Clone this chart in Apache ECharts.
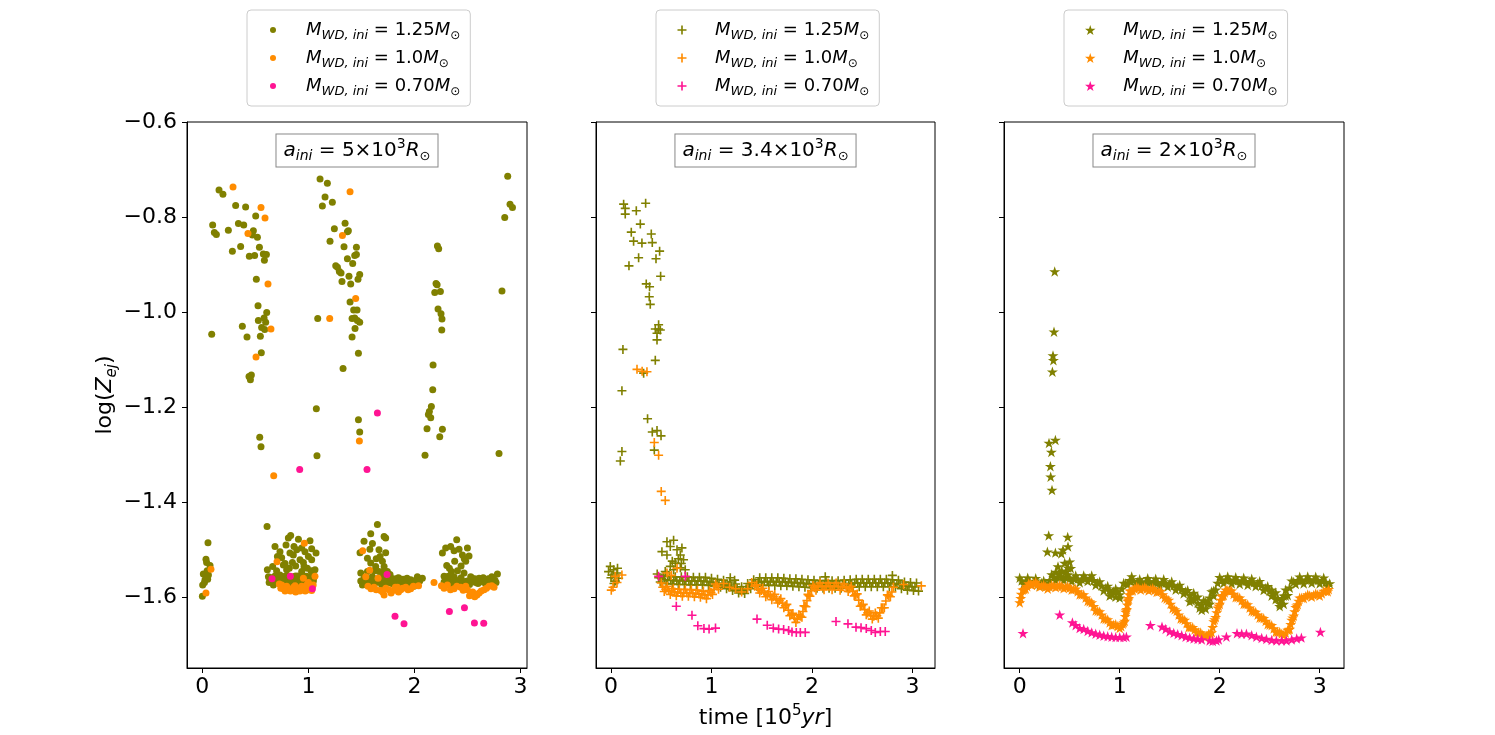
<!DOCTYPE html>
<html>
<head>
<meta charset="utf-8">
<script src="https://cdn.jsdelivr.net/npm/echarts@6.0.0/dist/echarts.min.js"></script>
<style>
  html, body { margin: 0; padding: 0; background: #fff; }
  #main { width: 1495px; height: 735px; }
</style>
</head>
<body>
<div id="main"></div>
<script>
// 三个面板的数据: [time (1e5 yr), log(Z_ej)]
const xTicks = [0, 1, 2, 3]
const yTicks = [-1.6, -1.4, -1.2, -1.0, -0.8, -0.6]
const massLabels = ['1.25', '1.0', '0.70']
const sepLabels = ['5', '3.4', '2']

// 面板1: a_ini = 5e3 R_sun
const p1Olive = [
  [0.000,-1.599],[0.003,-1.575],[0.025,-1.564],[0.009,-1.552],[0.057,-1.554],[0.050,-1.563],[0.072,-1.534],
  [0.040,-1.528],[0.034,-1.521],[0.053,-1.486],[0.020,-1.570],[0.045,-1.545],
  [0.088,-1.047],[0.097,-0.817],[0.113,-0.833],[0.132,-0.837],[0.157,-0.743],[0.194,-0.752],[0.245,-0.828],
  [0.283,-0.872],[0.314,-0.776],[0.340,-0.814],[0.361,-0.862],[0.377,-1.030],[0.390,-0.817],[0.408,-0.779],
  [0.421,-1.053],[0.440,-1.136],[0.443,-0.883],[0.453,-1.143],[0.462,-1.133],[0.472,-0.838],[0.481,-0.829],
  [0.493,-0.881],[0.503,-0.798],[0.509,-0.931],[0.519,-0.843],[0.525,-0.987],[0.528,-1.018],[0.538,-0.864],
  [0.541,-1.264],[0.547,-1.051],[0.553,-1.284],[0.556,-1.086],[0.559,-1.033],[0.575,-0.878],[0.582,-1.013],
  [0.585,-0.891],[0.588,-1.037],[0.597,-1.022],[0.604,-0.879],[0.607,-1.001],
  [0.610,-1.452],[0.613,-1.543],[0.623,-1.558],[0.638,-1.567],[0.663,-1.536],[0.670,-1.575],[0.685,-1.494],
  [0.685,-1.556],[0.701,-1.569],[0.708,-1.515],[0.732,-1.505],[0.732,-1.554],[0.748,-1.518],[0.764,-1.533],
  [0.764,-1.570],[0.779,-1.557],[0.789,-1.491],[0.795,-1.543],[0.795,-1.567],[0.811,-1.476],[0.826,-1.508],
  [0.833,-1.471],[0.849,-1.528],[0.858,-1.512],[0.858,-1.558],[0.864,-1.494],[0.890,-1.501],[0.890,-1.567],
  [0.906,-1.479],[0.906,-1.556],[0.921,-1.522],[0.937,-1.497],[0.937,-1.547],[0.937,-1.575],[0.953,-1.528],
  [0.959,-1.536],[0.968,-1.505],[0.968,-1.565],[0.984,-1.557],[1.000,-1.515],[1.015,-1.482],[1.015,-1.564],
  [1.031,-1.499],[1.031,-1.522],[1.031,-1.558],[1.047,-1.567],[1.062,-1.543],[1.072,-1.508],
  [0.650,-1.560],[0.720,-1.562],[0.750,-1.565],[0.810,-1.562],[0.830,-1.568],[0.870,-1.563],[0.920,-1.562],
  [0.960,-1.570],[1.000,-1.560],[1.040,-1.553],
  [0.630,-1.570],[0.660,-1.562],[0.690,-1.566],[0.710,-1.558],[0.740,-1.572],[0.770,-1.560],[0.800,-1.555],
  [0.820,-1.572],[0.845,-1.560],[0.880,-1.556],[0.900,-1.572],[0.930,-1.565],[0.950,-1.555],[0.975,-1.572],
  [0.990,-1.564],[1.010,-1.572],[1.025,-1.545],[1.050,-1.560],[0.880,-1.535],[0.780,-1.530],[0.700,-1.545],
  [0.820,-1.540],[0.990,-1.540],
  [1.075,-1.204],[1.081,-1.303],[1.088,-1.014],[1.110,-0.720],[1.132,-0.777],[1.157,-0.758],[1.179,-0.729],
  [1.204,-0.851],[1.226,-0.769],[1.245,-0.825],[1.258,-0.903],[1.274,-0.906],[1.292,-0.915],[1.308,-0.918],
  [1.317,-0.936],[1.327,-1.119],[1.336,-0.863],[1.346,-0.813],[1.368,-0.831],[1.377,-0.829],[1.368,-0.888],
  [1.383,-0.925],[1.393,-0.979],[1.399,-0.941],[1.412,-1.014],[1.412,-1.053],[1.418,-0.898],[1.427,-0.996],
  [1.437,-1.013],[1.437,-0.881],[1.440,-1.035],[1.453,-0.864],[1.453,-0.879],[1.459,-0.996],[1.462,-1.018],
  [1.468,-0.931],[1.472,-1.087],[1.472,-1.227],[1.484,-0.921],[1.484,-1.022],[1.484,-1.253],
  [1.487,-1.507],[1.494,-1.550],[1.494,-1.567],[1.525,-1.483],[1.525,-1.561],[1.557,-1.519],[1.557,-1.547],
  [1.588,-1.467],[1.588,-1.529],[1.604,-1.488],[1.604,-1.558],[1.635,-1.536],[1.651,-1.448],[1.666,-1.501],
  [1.666,-1.547],[1.676,-1.515],[1.682,-1.567],[1.698,-1.525],[1.714,-1.473],[1.714,-1.536],[1.729,-1.476],
  [1.729,-1.507],[1.745,-1.547],[1.745,-1.570],[1.776,-1.561],[1.808,-1.567],[1.840,-1.561],[1.871,-1.570],
  [1.902,-1.563],[1.931,-1.561],[1.949,-1.570],[1.965,-1.564],[1.996,-1.578],[2.028,-1.558],[2.075,-1.561],
  [1.540,-1.570],[1.620,-1.565],[1.700,-1.560],[1.760,-1.566],[1.790,-1.572],[1.820,-1.565],[1.860,-1.566],
  [1.890,-1.572],[1.920,-1.567],[1.980,-1.570],
  [1.510,-1.575],[1.560,-1.566],[1.580,-1.575],[1.640,-1.570],[1.660,-1.562],[1.690,-1.574],[1.720,-1.566],
  [1.780,-1.571],[1.800,-1.562],[1.830,-1.572],[1.850,-1.560],[1.880,-1.563],[1.910,-1.571],[1.940,-1.564],
  [1.960,-1.573],[2.000,-1.566],[2.050,-1.567],[1.620,-1.545],[1.700,-1.548],[1.770,-1.553],[1.640,-1.520],
  [1.580,-1.500],
  [2.100,-1.302],[2.119,-1.246],[2.132,-1.216],[2.141,-1.210],[2.154,-1.223],[2.160,-1.199],[2.173,-1.164],
  [2.176,-1.112],[2.192,-0.959],[2.204,-0.940],[2.214,-0.943],[2.217,-0.861],[2.223,-0.994],[2.229,-0.867],
  [2.239,-1.263],[2.245,-0.957],[2.251,-1.004],[2.258,-1.038],[2.260,-1.015],[2.264,-1.247],
  [2.264,-1.508],[2.280,-1.557],[2.280,-1.569],[2.295,-1.497],[2.305,-1.534],[2.327,-1.567],[2.342,-1.494],
  [2.349,-1.547],[2.374,-1.503],[2.374,-1.558],[2.399,-1.480],[2.406,-1.545],[2.421,-1.500],[2.437,-1.564],
  [2.453,-1.512],[2.468,-1.550],[2.484,-1.525],[2.500,-1.497],[2.500,-1.567],[2.515,-1.514],[2.531,-1.558],
  [2.578,-1.570],[2.610,-1.561],[2.642,-1.561],[2.657,-1.570],[2.689,-1.563],[2.736,-1.567],[2.783,-1.552],
  [2.300,-1.562],[2.360,-1.570],[2.420,-1.567],[2.460,-1.572],[2.550,-1.565],[2.600,-1.572],[2.670,-1.565],
  [2.710,-1.570],[2.760,-1.565],
  [2.290,-1.575],[2.320,-1.557],[2.340,-1.574],[2.390,-1.565],[2.410,-1.575],[2.440,-1.560],[2.480,-1.568],
  [2.520,-1.574],[2.540,-1.560],[2.570,-1.562],[2.620,-1.568],[2.650,-1.560],[2.680,-1.574],[2.700,-1.562],
  [2.730,-1.558],[2.770,-1.570],[2.440,-1.535],[2.380,-1.525],[2.330,-1.540],[2.470,-1.520],
  [2.798,-1.298],[2.826,-0.956],[2.852,-0.801],[2.880,-0.714],[2.902,-0.773],[2.925,-0.780]
]
const p1Orange = [
  [0.034,-1.592],[0.081,-1.542],
  [0.289,-0.737],[0.430,-0.835],[0.506,-1.095],[0.553,-0.780],[0.591,-0.802],[0.619,-0.941],[0.647,-1.036],
  [0.673,-1.345],
  [0.704,-1.526],[0.726,-1.573],[0.748,-1.575],[0.764,-1.583],[0.795,-1.578],[0.811,-1.585],[0.852,-1.583],
  [0.874,-1.577],[0.890,-1.586],[0.937,-1.578],[0.953,-1.561],[0.962,-1.487],[0.984,-1.575],[1.000,-1.570],
  [1.021,-1.578],[1.031,-1.587],[1.062,-1.557],
  [0.740,-1.582],[0.780,-1.588],[0.800,-1.582],[0.830,-1.588],[0.860,-1.580],[0.880,-1.590],[0.910,-1.582],
  [0.920,-1.588],[0.960,-1.580],[0.970,-1.588],[1.000,-1.585],[1.045,-1.575],
  [1.201,-1.014],[1.321,-0.839],[1.393,-0.747],[1.446,-0.972],[1.481,-1.272],
  [1.512,-1.503],[1.541,-1.558],[1.562,-1.578],[1.578,-1.544],[1.619,-1.580],[1.657,-1.561],[1.682,-1.587],
  [1.714,-1.596],[1.761,-1.585],[1.808,-1.586],[1.840,-1.580],[1.871,-1.585],[1.918,-1.580],[1.965,-1.583],
  [2.039,-1.577],[2.185,-1.570],
  [1.590,-1.583],[1.640,-1.585],[1.700,-1.590],[1.730,-1.582],[1.780,-1.592],[1.820,-1.580],[1.850,-1.590],
  [1.890,-1.582],[1.940,-1.585],[1.990,-1.578],
  [2.255,-1.577],[2.311,-1.575],[2.374,-1.583],[2.437,-1.580],[2.484,-1.578],[2.500,-1.585],[2.531,-1.592],
  [2.569,-1.600],[2.610,-1.592],[2.657,-1.585],[2.704,-1.578],[2.751,-1.580],
  [2.280,-1.582],[2.340,-1.585],[2.400,-1.578],[2.460,-1.586],[2.520,-1.598],[2.550,-1.590],[2.590,-1.596],
  [2.630,-1.588],[2.680,-1.582],[2.730,-1.577]
]
const p1Pink = [
  [0.657,-1.562],[0.830,-1.557],[0.918,-1.332],[1.038,-1.583],[1.553,-1.332],[1.651,-1.213],[1.742,-1.553],
  [1.817,-1.641],[1.902,-1.657],[2.330,-1.631],[2.472,-1.623],[2.566,-1.655],[2.654,-1.656]
]

// 面板2: a_ini = 3.4e3 R_sun
const p2Olive = [
  [-0.007,-1.536],[0.026,-1.543],[-0.024,-1.547],[0.060,-1.550],[0.010,-1.554],[0.076,-1.561],[0.043,-1.567],
  [0.000,-1.560],[0.030,-1.572],[0.065,-1.540],
  [0.093,-1.314],[0.109,-1.294],[0.109,-1.166],[0.119,-1.079],[0.126,-0.773],[0.142,-0.782],[0.142,-0.794],
  [0.179,-0.903],[0.202,-0.832],[0.225,-0.851],[0.252,-0.787],[0.275,-0.886],[0.292,-0.815],[0.308,-0.855],
  [0.325,-1.129],[0.345,-0.771],[0.351,-0.941],[0.364,-1.225],[0.381,-0.968],[0.384,-0.947],[0.391,-0.984],
  [0.401,-0.836],[0.411,-0.854],[0.411,-1.253],[0.431,-1.291],[0.441,-1.036],[0.441,-1.102],[0.448,-0.888],
  [0.458,-1.045],[0.458,-1.059],[0.458,-1.250],[0.474,-1.027],[0.474,-1.036],[0.484,-0.872],[0.491,-1.038],
  [0.494,-0.925],[0.498,-1.261],
  [0.507,-1.505],[0.540,-1.547],[0.557,-1.484],[0.557,-1.512],[0.590,-1.494],[0.590,-1.536],[0.623,-1.481],
  [0.623,-1.543],[0.640,-1.529],[0.657,-1.501],[0.690,-1.512],[0.690,-1.539],[0.706,-1.497],[0.722,-1.522],
  [0.739,-1.543],[0.700,-1.530],[0.670,-1.520],[0.610,-1.525],
  [1.187,-1.560],[1.230,-1.565],[2.132,-1.558],[2.800,-1.555]
]
const p2OliveBand = [
  [0.46,-1.552],[0.49,-1.569],[0.52,-1.555],[0.55,-1.572],[0.58,-1.557],[0.61,-1.573],[0.64,-1.558],
  [0.67,-1.574],[0.70,-1.558],[0.73,-1.574],[0.76,-1.558],[0.79,-1.575],[0.82,-1.559],[0.85,-1.575],
  [0.88,-1.559],[0.91,-1.575],[0.94,-1.559],[0.97,-1.576],[1.00,-1.561],[1.03,-1.578],[1.06,-1.563],
  [1.09,-1.580],[1.12,-1.565],[1.15,-1.583],[1.18,-1.569],[1.21,-1.587],[1.24,-1.573],[1.27,-1.592],
  [1.30,-1.579],[1.33,-1.593],[1.36,-1.572],[1.39,-1.583],[1.42,-1.564],[1.45,-1.578],[1.48,-1.560],
  [1.51,-1.576],[1.54,-1.560],[1.57,-1.576],[1.60,-1.560],[1.63,-1.576],[1.66,-1.560],[1.69,-1.577],
  [1.72,-1.561],[1.75,-1.577],[1.78,-1.562],[1.81,-1.578],[1.84,-1.562],[1.87,-1.579],[1.90,-1.563],
  [1.93,-1.580],[1.96,-1.564],[1.99,-1.581],[2.02,-1.565],[2.05,-1.582],[2.08,-1.566],[2.11,-1.582],
  [2.14,-1.566],[2.17,-1.582],[2.20,-1.566],[2.23,-1.582],[2.26,-1.566],[2.29,-1.582],[2.32,-1.565],
  [2.35,-1.581],[2.38,-1.564],[2.41,-1.580],[2.44,-1.563],[2.47,-1.579],[2.50,-1.563],[2.53,-1.579],
  [2.56,-1.563],[2.59,-1.579],[2.62,-1.563],[2.65,-1.579],[2.68,-1.563],[2.71,-1.579],[2.74,-1.563],
  [2.77,-1.579],[2.80,-1.564],[2.83,-1.580],[2.86,-1.565],[2.89,-1.583],[2.92,-1.569],[2.95,-1.586],
  [2.98,-1.570],[3.01,-1.587],[3.04,-1.571],[3.06,-1.588],
  [0.475,-1.560],[0.505,-1.562],[0.535,-1.564],[0.565,-1.565],[0.595,-1.565],[0.625,-1.566],[0.655,-1.566],
  [0.685,-1.566],[0.715,-1.566],[0.745,-1.566],[0.775,-1.567],[0.805,-1.567],[0.835,-1.567],[0.865,-1.567],
  [0.895,-1.567],[0.925,-1.567],[0.955,-1.568],[0.985,-1.569],[1.015,-1.570],[1.045,-1.571],[1.075,-1.572],
  [1.105,-1.573],[1.135,-1.574],[1.165,-1.576],[1.195,-1.578],[1.225,-1.580],[1.255,-1.583],[1.285,-1.586],
  [1.315,-1.586],[1.345,-1.583],[1.375,-1.578],[1.405,-1.573],[1.435,-1.571],[1.465,-1.569],[1.495,-1.568],
  [1.525,-1.568],[1.555,-1.568],[1.585,-1.568],[1.615,-1.568],[1.645,-1.568],[1.675,-1.569],[1.705,-1.569],
  [1.735,-1.569],[1.765,-1.570],[1.795,-1.570],[1.825,-1.570],[1.855,-1.571],[1.885,-1.571],[1.915,-1.572],
  [1.945,-1.572],[1.975,-1.573],[2.005,-1.573],[2.035,-1.574],[2.065,-1.574],[2.095,-1.574],[2.125,-1.574],
  [2.155,-1.574],[2.185,-1.574],[2.215,-1.574],[2.245,-1.574],[2.275,-1.574],[2.305,-1.573],[2.335,-1.573],
  [2.365,-1.572],[2.395,-1.572],[2.425,-1.571],[2.455,-1.571],[2.485,-1.571],[2.515,-1.571],[2.545,-1.571],
  [2.575,-1.571],[2.605,-1.571],[2.635,-1.571],[2.665,-1.571],[2.695,-1.571],[2.725,-1.571],[2.755,-1.571],
  [2.785,-1.572],[2.815,-1.572],[2.845,-1.573],[2.875,-1.574],[2.905,-1.576],[2.935,-1.578],[2.965,-1.578],
  [2.995,-1.579],[3.025,-1.579]
]
const p2Orange = [
  [0.003,-1.586],[0.020,-1.580],[0.043,-1.557],[0.060,-1.570],[0.109,-1.554],
  [0.259,-1.121],[0.310,-1.125],[0.358,-1.126],[0.431,-1.275],[0.474,-1.302],[0.500,-1.378],[0.540,-1.397],
  [0.557,-1.550],[0.657,-1.540],[0.600,-1.555],
  [1.12,-1.572],[1.18,-1.580],[1.24,-1.583],[1.30,-1.590],[1.36,-1.583],[1.40,-1.570],[1.43,-1.578],
  [2.912,-1.574],[3.088,-1.577]
]
const p2OrangeBand = [
  [0.50,-1.571],[0.53,-1.589],[0.56,-1.578],[0.59,-1.595],[0.62,-1.583],[0.65,-1.598],[0.68,-1.584],
  [0.71,-1.599],[0.74,-1.585],[0.77,-1.599],[0.80,-1.585],[0.83,-1.600],[0.86,-1.586],[0.89,-1.601],
  [0.92,-1.588],[0.95,-1.604],[0.98,-1.587],[1.01,-1.595],[1.04,-1.573],[1.07,-1.584],
  [0.515,-1.580],[0.545,-1.584],[0.575,-1.587],[0.605,-1.589],[0.635,-1.590],[0.665,-1.591],[0.695,-1.592],
  [0.725,-1.592],[0.755,-1.592],[0.785,-1.592],[0.815,-1.593],[0.845,-1.593],[0.875,-1.594],[0.905,-1.595],
  [0.935,-1.596],[0.965,-1.596],[0.995,-1.591],[1.025,-1.584],[1.055,-1.578],
  [1.45,-1.575],[1.48,-1.592],[1.51,-1.582],[1.54,-1.600],[1.57,-1.589],[1.60,-1.606],[1.63,-1.595],
  [1.66,-1.613],[1.69,-1.604],[1.72,-1.623],[1.75,-1.616],[1.78,-1.640],[1.81,-1.635],[1.84,-1.654],
  [1.87,-1.638],[1.90,-1.643],[1.92,-1.619],[1.94,-1.621],[1.96,-1.595],[1.98,-1.599],[2.01,-1.576],
  [2.04,-1.586],[2.08,-1.571],[2.12,-1.585],[2.16,-1.571],[2.20,-1.585],[2.24,-1.571],[2.28,-1.586],
  [2.32,-1.573],[2.36,-1.589],[2.39,-1.578],[2.42,-1.598],[2.45,-1.594],[2.48,-1.620],[2.51,-1.616],
  [2.54,-1.638],[2.57,-1.630],[2.60,-1.647],[2.63,-1.634],[2.66,-1.645],[2.69,-1.623],[2.72,-1.623],
  [2.75,-1.596],[2.78,-1.600],[2.81,-1.580],
  [1.465,-1.584],[1.495,-1.587],[1.525,-1.591],[1.555,-1.595],[1.585,-1.598],[1.615,-1.600],[1.645,-1.604],
  [1.675,-1.608],[1.705,-1.613],[1.735,-1.619],[1.765,-1.628],[1.795,-1.638],[1.825,-1.645],[1.855,-1.647],
  [1.885,-1.641],[1.910,-1.631],[1.930,-1.620],[1.950,-1.608],[1.970,-1.597],[1.995,-1.587],[2.025,-1.581],
  [2.060,-1.578],[2.100,-1.578],[2.140,-1.578],[2.180,-1.578],[2.220,-1.578],[2.260,-1.578],[2.300,-1.579],
  [2.340,-1.581],[2.375,-1.583],[2.405,-1.588],[2.435,-1.596],[2.465,-1.607],[2.495,-1.618],[2.525,-1.627],
  [2.555,-1.634],[2.585,-1.639],[2.615,-1.641],[2.645,-1.640],[2.675,-1.634],[2.705,-1.623],[2.735,-1.609],
  [2.765,-1.598],[2.795,-1.590]
]
const p2Pink = [
  [0.474,-1.557],[0.739,-1.557],[0.650,-1.620],[0.806,-1.639],[0.864,-1.661],[0.925,-1.667],[0.976,-1.668],
  [1.040,-1.666],[1.453,-1.647],[1.555,-1.660],[1.615,-1.666],[1.668,-1.668],[1.718,-1.669],[1.768,-1.671],
  [1.801,-1.674],[1.844,-1.675],[1.884,-1.675],[1.933,-1.675],[2.239,-1.652],[2.358,-1.657],[2.438,-1.664],
  [2.488,-1.665],[2.540,-1.667],[2.590,-1.671],[2.630,-1.675],[2.680,-1.673],[2.729,-1.673]
]

// 面板3: a_ini = 2e3 R_sun
const p3Olive = [
  [0.350,-0.915],[0.343,-1.042],[0.333,-1.092],[0.337,-1.102],[0.327,-1.126],[0.357,-1.270],[0.293,-1.276],
  [0.317,-1.295],[0.307,-1.325],[0.310,-1.347],[0.323,-1.375],[0.290,-1.471],[0.480,-1.474],[0.277,-1.505],
  [0.357,-1.507],[0.483,-1.494],[0.433,-1.501],[0.417,-1.509],[0.500,-1.526],[0.450,-1.529],[0.383,-1.536],
  [0.483,-1.539],[0.420,-1.545],[0.460,-1.548],[0.360,-1.548],[0.510,-1.540]
]
const p3OliveBand = [
  [0.00,-1.560],[0.04,-1.573],[0.08,-1.560],[0.12,-1.574],[0.16,-1.561],[0.20,-1.577],[0.24,-1.566],
  [0.28,-1.577],[0.32,-1.553],[0.36,-1.565],[0.40,-1.551],[0.44,-1.565],[0.48,-1.553],[0.52,-1.567],
  [0.56,-1.555],[0.60,-1.570],[0.64,-1.555],[0.68,-1.567],[0.72,-1.555],[0.76,-1.575],[0.80,-1.568],
  [0.84,-1.587],[0.88,-1.577],[0.92,-1.595],[0.96,-1.583],[1.00,-1.595],[1.04,-1.571],[1.08,-1.573],
  [1.12,-1.557],[1.16,-1.575],[1.20,-1.563],[1.24,-1.576],[1.28,-1.561],[1.32,-1.575],[1.36,-1.562],
  [1.40,-1.577],[1.44,-1.563],[1.48,-1.579],[1.52,-1.568],[1.56,-1.585],[1.60,-1.575],[1.64,-1.593],
  [1.68,-1.586],[1.72,-1.608],[1.76,-1.602],[1.80,-1.623],[1.84,-1.608],[1.88,-1.614],[1.92,-1.589],
  [1.96,-1.585],[2.00,-1.559],[2.04,-1.571],[2.08,-1.557],[2.12,-1.572],[2.16,-1.559],[2.20,-1.573],
  [2.24,-1.560],[2.28,-1.575],[2.32,-1.562],[2.36,-1.578],[2.40,-1.567],[2.44,-1.586],[2.48,-1.578],
  [2.52,-1.598],[2.56,-1.591],[2.60,-1.614],[2.64,-1.598],[2.68,-1.597],[2.72,-1.566],[2.76,-1.573],
  [2.80,-1.558],[2.84,-1.572],[2.88,-1.557],[2.92,-1.571],[2.96,-1.558],[3.00,-1.572],[3.04,-1.560],
  [3.08,-1.578],
  [0.02,-1.566],[0.06,-1.567],[0.10,-1.567],[0.14,-1.567],[0.18,-1.569],[0.22,-1.571],[0.26,-1.572],
  [0.30,-1.565],[0.34,-1.559],[0.38,-1.558],[0.42,-1.558],[0.46,-1.559],[0.50,-1.560],[0.54,-1.561],
  [0.58,-1.562],[0.62,-1.563],[0.66,-1.561],[0.70,-1.561],[0.74,-1.565],[0.78,-1.571],[0.82,-1.577],
  [0.86,-1.582],[0.90,-1.586],[0.94,-1.589],[0.98,-1.589],[1.02,-1.583],[1.06,-1.572],[1.10,-1.565],
  [1.14,-1.566],[1.18,-1.569],[1.22,-1.570],[1.26,-1.568],[1.30,-1.568],[1.34,-1.568],[1.38,-1.570],
  [1.42,-1.570],[1.46,-1.571],[1.50,-1.573],[1.54,-1.576],[1.58,-1.580],[1.62,-1.584],[1.66,-1.589],
  [1.70,-1.597],[1.74,-1.605],[1.78,-1.613],[1.82,-1.616],[1.86,-1.611],[1.90,-1.602],[1.94,-1.587],
  [1.98,-1.571],[2.02,-1.565],[2.06,-1.564],[2.10,-1.564],[2.14,-1.565],[2.18,-1.566],[2.22,-1.566],
  [2.26,-1.567],[2.30,-1.568],[2.34,-1.570],[2.38,-1.572],[2.42,-1.576],[2.46,-1.582],[2.50,-1.588],
  [2.54,-1.594],[2.58,-1.603],[2.62,-1.607],[2.66,-1.598],[2.70,-1.581],[2.74,-1.569],[2.78,-1.565],
  [2.82,-1.565],[2.86,-1.564],[2.90,-1.564],[2.94,-1.564],[2.98,-1.565],[3.02,-1.566],[3.06,-1.569],
  [3.10,-1.572],
  [1.70,-1.610],[1.74,-1.592],[1.78,-1.600],[1.82,-1.628],[1.86,-1.625],[1.90,-1.615],[1.94,-1.598],
  [2.52,-1.585],[2.56,-1.605],[2.60,-1.620],[2.64,-1.615],[2.66,-1.585],[0.90,-1.598],[0.96,-1.600],
  [1.00,-1.602]
]
const p3Orange = [
  [0.000,-1.612],[0.010,-1.603],[0.030,-1.585],[0.060,-1.583],[0.090,-1.572],[0.120,-1.575],[0.160,-1.569],
  [0.200,-1.579],[0.240,-1.575],[0.280,-1.583],[0.320,-1.575],[0.360,-1.580],[0.400,-1.575],[0.440,-1.582],
  [0.480,-1.577],[0.520,-1.585],[0.560,-1.583],[0.600,-1.595],[0.640,-1.595],[0.680,-1.609],[0.720,-1.612],
  [0.760,-1.629],[0.800,-1.631],[0.840,-1.646],[0.880,-1.648],[0.920,-1.660],[0.960,-1.658],[1.000,-1.666],
  [1.030,-1.657],[1.050,-1.651],[1.060,-1.632],[1.070,-1.626],[1.080,-1.609],[1.090,-1.603],[1.100,-1.587],
  [1.130,-1.587],[1.170,-1.579],[1.210,-1.585],[1.250,-1.580],[1.290,-1.587],[1.330,-1.582],[1.370,-1.590],
  [1.410,-1.588],[1.450,-1.602],[1.490,-1.607],[1.530,-1.624],[1.570,-1.630],[1.610,-1.646],[1.650,-1.649],
  [1.690,-1.664],[1.730,-1.664],[1.770,-1.675],[1.810,-1.675],[1.850,-1.685],[1.890,-1.678],[1.920,-1.675],
  [1.940,-1.652],[1.960,-1.643],[1.980,-1.623],[2.000,-1.615],[2.020,-1.599],[2.040,-1.597],[2.060,-1.585],
  [2.090,-1.588],[2.120,-1.587],[2.160,-1.601],[2.200,-1.602],[2.240,-1.615],[2.280,-1.616],[2.320,-1.630],
  [2.360,-1.632],[2.400,-1.644],[2.440,-1.645],[2.480,-1.658],[2.520,-1.660],[2.560,-1.674],[2.600,-1.674],
  [2.640,-1.681],[2.680,-1.670],[2.700,-1.668],[2.720,-1.649],[2.740,-1.640],[2.760,-1.622],[2.780,-1.616],
  [2.800,-1.602],[2.840,-1.603],[2.880,-1.595],[2.920,-1.600],[2.960,-1.593],[3.000,-1.598],[3.040,-1.588],
  [3.080,-1.589],
  [0.015,-1.594],[0.045,-1.584],[0.075,-1.578],[0.105,-1.573],[0.140,-1.572],[0.180,-1.574],[0.220,-1.577],
  [0.260,-1.579],[0.300,-1.579],[0.340,-1.577],[0.380,-1.578],[0.420,-1.578],[0.460,-1.580],[0.500,-1.581],
  [0.540,-1.584],[0.580,-1.589],[0.620,-1.595],[0.660,-1.602],[0.700,-1.610],[0.740,-1.620],[0.780,-1.630],
  [0.820,-1.638],[0.860,-1.647],[0.900,-1.654],[0.940,-1.659],[0.980,-1.662],[1.015,-1.662],[1.040,-1.654],
  [1.055,-1.641],[1.065,-1.629],[1.075,-1.617],[1.085,-1.606],[1.095,-1.595],[1.115,-1.587],[1.150,-1.583],
  [1.190,-1.582],[1.230,-1.582],[1.270,-1.583],[1.310,-1.584],[1.350,-1.586],[1.390,-1.589],[1.430,-1.595],
  [1.470,-1.604],[1.510,-1.615],[1.550,-1.627],[1.590,-1.638],[1.630,-1.647],[1.670,-1.656],[1.710,-1.664],
  [1.750,-1.669],[1.790,-1.675],[1.830,-1.680],[1.870,-1.682],[1.905,-1.677],[1.930,-1.664],[1.950,-1.648],
  [1.970,-1.633],[1.990,-1.619],[2.010,-1.607],[2.030,-1.598],[2.050,-1.591],[2.075,-1.586],[2.105,-1.587],
  [2.140,-1.594],[2.180,-1.601],[2.220,-1.608],[2.260,-1.615],[2.300,-1.623],[2.340,-1.631],[2.380,-1.638],
  [2.420,-1.644],[2.460,-1.651],[2.500,-1.659],[2.540,-1.667],[2.580,-1.674],[2.620,-1.678],[2.660,-1.676],
  [2.690,-1.669],[2.710,-1.658],[2.730,-1.644],[2.750,-1.631],[2.770,-1.619],[2.790,-1.609],[2.820,-1.602],
  [2.860,-1.599],[2.900,-1.597],[2.940,-1.596],[2.980,-1.595],[3.020,-1.593],[3.060,-1.588],[3.090,-1.584]
]
const p3Pink = [
  [0.033,-1.677],[0.400,-1.638],[0.527,-1.654],[0.560,-1.660],[0.600,-1.666],[0.640,-1.668],[0.680,-1.672],
  [0.720,-1.675],[0.760,-1.678],[0.800,-1.680],[0.840,-1.682],[0.880,-1.683],[0.920,-1.684],[0.960,-1.685],
  [1.000,-1.685],[1.040,-1.685],[1.067,-1.684],[1.307,-1.660],[1.423,-1.663],[1.460,-1.668],[1.500,-1.673],
  [1.540,-1.676],[1.580,-1.679],[1.620,-1.681],[1.660,-1.684],[1.700,-1.686],[1.740,-1.688],[1.780,-1.689],
  [1.820,-1.690],[1.900,-1.692],[1.930,-1.693],[1.967,-1.692],[1.990,-1.690],[2.067,-1.684],[2.173,-1.677],
  [2.220,-1.678],[2.267,-1.678],[2.320,-1.681],[2.367,-1.684],[2.420,-1.687],[2.467,-1.689],[2.520,-1.691],
  [2.567,-1.692],[2.620,-1.692],[2.667,-1.692],[2.720,-1.690],[2.770,-1.688],[2.817,-1.686],[3.007,-1.674]
]

const colors = ['#808000', '#ff8c00', '#ff1493']
const plusPath = 'path://M4.1,0H5.9V4.1H10V5.9H5.9V10H4.1V5.9H0V4.1H4.1Z'
const starPath = 'path://M50,0L61.23,34.55L97.55,34.55L68.17,55.9L79.39,90.45L50,69.1L20.61,90.45L31.83,55.9L2.45,34.55L38.77,34.55Z'

const FONT = 'DejaVu Sans'
function richStyles(base) {
  const sub = Math.round(base * 0.7)
  return {
    n: { fontFamily: FONT, fontSize: base, color: '#000', lineHeight: base + 6, verticalAlign: 'middle' },
    i: { fontFamily: FONT, fontSize: base, color: '#000', fontStyle: 'italic', lineHeight: base + 6, verticalAlign: 'middle' },
    s: { fontFamily: FONT, fontSize: sub, color: '#000', fontStyle: 'italic', lineHeight: sub, verticalAlign: 'bottom' },
    p: { fontFamily: FONT, fontSize: sub, color: '#000', lineHeight: sub, verticalAlign: 'top' },
    o: { fontFamily: FONT, fontSize: sub - 1, color: '#000', lineHeight: sub, verticalAlign: 'bottom' }
  }
}
const massText = m => '{i|M}{s|WD, ini}{n| = ' + m + '}{i|M}{o|⊙}'

const panels = [
  { data: [p1Olive, p1Orange, p1Pink], symbol: 'circle', size: 7, legendSize: 6, left: 187, width: 340,
    xMin: -0.145, xMax: 3.062 },
  { data: [p2Olive.concat(p2OliveBand), p2Orange.concat(p2OrangeBand), p2Pink], symbol: plusPath, size: 9,
    legendSize: 9, left: 596, width: 339, xMin: -0.149, xMax: 3.224 },
  { data: [p3Olive.concat(p3OliveBand), p3Orange, p3Pink], symbol: starPath, size: 11, legendSize: 10,
    left: 1004, width: 340, xMin: -0.157, xMax: 3.243 }
]
const TOP = 122, HEIGHT = 546

const grid = [], xAxis = [], yAxis = [], series = [], legend = [], graphic = []
panels.forEach((p, k) => {
  grid.push({ left: p.left, top: TOP, width: p.width, height: HEIGHT, show: true, borderColor: '#000',
    borderWidth: 1, outerBoundsMode: 'none' })
  xAxis.push({
    type: 'value', gridIndex: k, min: p.xMin, max: p.xMax,
    axisLine: { show: true, onZero: false, lineStyle: { color: '#000', width: 1 } },
    axisTick: { show: true, length: 5, lineStyle: { color: '#000' }, customValues: xTicks },
    axisLabel: { customValues: xTicks, color: '#000', fontFamily: FONT, fontSize: 22, margin: 8 },
    splitLine: { show: false },
    name: k === 1 ? '{n|time [10}{p|5}{i|yr}{n|]}' : '',
    nameLocation: 'middle', nameGap: 36,
    nameTextStyle: { rich: richStyles(22) }
  })
  yAxis.push({
    type: 'value', gridIndex: k, min: -1.75, max: -0.6,
    axisLine: { show: true, onZero: false, lineStyle: { color: '#000', width: 1 } },
    axisTick: { show: true, length: 5, lineStyle: { color: '#000' }, customValues: yTicks },
    axisLabel: { show: k === 0, customValues: yTicks, color: '#000', fontFamily: FONT, fontSize: 22, margin: 10,
      formatter: v => v.toFixed(1).replace('-', '\u2212') },
    splitLine: { show: false },
    name: k === 0 ? '{n|log(}{i|Z}{s|ej}{n|)}' : '',
    nameLocation: 'middle', nameGap: 66, nameRotate: 90,
    nameTextStyle: { rich: richStyles(22) }
  })
  const names = []
  p.data.forEach((d, j) => {
    const name = 'p' + k + '_' + j
    names.push(name)
    series.push({
      name, type: 'scatter', xAxisIndex: k, yAxisIndex: k, data: d,
      symbol: p.symbol, symbolSize: p.size, symbolKeepAspect: true,
      itemStyle: { color: colors[j], opacity: 1 },
      emphasis: { disabled: true }, silent: true
    })
  })
  // 图例: 每个面板上方一个
  legend.push({
    data: names, orient: 'vertical', left: p.left + 60, top: 10,
    padding: [11, 10, 8, 26 - p.legendSize / 2], itemGap: 7, itemWidth: 56, itemHeight: p.legendSize,
    borderColor: '#cccccc', borderWidth: 1, borderRadius: 4, backgroundColor: '#fff',
    selectedMode: false,
    formatter: name => massText(massLabels[+name.split('_')[1]]),
    textStyle: { rich: richStyles(18) }
  })
  graphic.push({
    type: 'text', x: p.left + p.width / 2, y: 150.5, silent: true, z: 100,
    style: {
      text: '{i|a}{s|ini}{n| = ' + sepLabels[k] + '×10}{p|3}{i|R}{o|⊙}',
      rich: richStyles(20), align: 'center', verticalAlign: 'middle',
      backgroundColor: '#fff', borderColor: '#888', borderWidth: 1, padding: [3, 7, 3, 7]
    }
  })
})

const chart = echarts.init(document.getElementById('main'))
chart.setOption({
  animation: false,
  backgroundColor: '#fff',
  grid, xAxis, yAxis, series, legend, graphic
})
</script>
</body>
</html>
